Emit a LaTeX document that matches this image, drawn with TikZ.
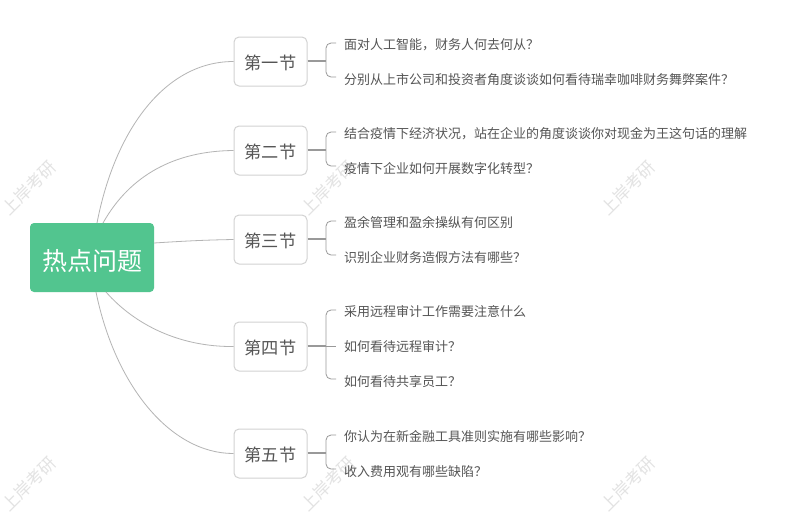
\documentclass[tikz,border=0pt]{standalone}
\usepackage{fontspec}
\setmainfont{Noto Sans CJK SC}
\usetikzlibrary{positioning}
\definecolor{rootgreen}{HTML}{52C58F}
\definecolor{boxgray}{HTML}{D2D2D2}
\definecolor{linegray}{HTML}{B4B4B4}
\definecolor{textgray}{HTML}{555555}
\tikzset{
  rootbox/.style={draw=none,fill=rootgreen,rounded corners=4pt,minimum width=124pt,minimum height=69pt,inner sep=0pt,text=white},
  roottext/.style={text=white,inner sep=0pt,font=\fontsize{25}{28}\selectfont},
  sectionbox/.style={draw=boxgray,line width=1pt,fill=white,rounded corners=5pt,minimum width=73pt,minimum height=49pt,inner sep=0pt},
  sectiontext/.style={text=textgray,inner sep=0pt,font=\fontsize{17.2}{20}\selectfont},
  leaftext/.style={anchor=west,inner xsep=8pt,inner ysep=0pt,text height=12.2pt,text depth=1.8pt,text=textgray,font=\fontsize{13}{15}\selectfont},
  rootline/.style={draw=linegray,line width=0.8pt},
  stemline/.style={draw=linegray!85!black,line width=1.6pt},
  leafline/.style={draw=linegray!85!black,line width=0.8pt,rounded corners=5pt},
  watermark/.style={rotate=45,text=black!11,font=\fontsize{17}{20}\selectfont}
}
\begin{document}
\begin{tikzpicture}[x=1pt,y=-1pt]
\useasboundingbox (0,0) rectangle (786,515);
\fill[white] (0,0) rectangle (786,515);

\node[watermark] (w1) at (29,188) {上岸考研};
\node[watermark] (w2) at (328,188) {上岸考研};
\node[watermark] (w3) at (628,188) {上岸考研};
\node[watermark] (w4) at (29,484) {上岸考研};
\node[watermark] (w5) at (328,484) {上岸考研};
\node[watermark] (w6) at (628,484) {上岸考研};

\node[rootbox] (root) at (92,257.5) {};
\node[roottext] (roott) at (92,261) {热点问题};
\node[sectionbox] (s1) at (270.5,61.5) {};
\node[sectionbox] (s2) at (270.5,150.5) {};
\node[sectionbox] (s3) at (270.5,239.5) {};
\node[sectionbox] (s4) at (270.5,346.5) {};
\node[sectionbox] (s5) at (270.5,453.5) {};
\node[sectiontext] (t1) at (270.5,62.5) {第一节};
\node[sectiontext] (t2) at (270.5,151.5) {第二节};
\node[sectiontext] (t3) at (270.5,240.5) {第三节};
\node[sectiontext] (t4) at (270.5,347.5) {第四节};
\node[sectiontext] (t5) at (270.5,454.5) {第五节};

\node[leaftext] (l11) at (336,44) {面对人工智能，财务人何去何从？};
\node[leaftext] (l12) at (336,79) {分别从上市公司和投资者角度谈谈如何看待瑞幸咖啡财务舞弊案件？};
\node[leaftext] (l21) at (336,133) {结合疫情下经济状况，站在企业的角度谈谈你对现金为王这句话的理解};
\node[leaftext] (l22) at (336,168) {疫情下企业如何开展数字化转型？};
\node[leaftext] (l31) at (336,222) {盈余管理和盈余操纵有何区别};
\node[leaftext] (l32) at (336,257) {识别企业财务造假方法有哪些？};
\node[leaftext] (l41) at (336,311) {采用远程审计工作需要注意什么};
\node[leaftext] (l42) at (336,346) {如何看待远程审计？};
\node[leaftext] (l43) at (336,381) {如何看待共享员工？};
\node[leaftext] (l51) at (336,436) {你认为在新金融工具准则实施有哪些影响？};
\node[leaftext] (l52) at (336,471) {收入费用观有哪些缺陷？};

\coordinate (r1) at (97,223);
\coordinate (r2) at (103,223);
\coordinate (r3) at (154,243);
\coordinate (r4) at (106,292);
\coordinate (r5) at (96,292);
\draw[rootline] (r1) .. controls (115,130) and (165,61.5) .. (s1.west);
\draw[rootline] (r2) .. controls (130,175) and (175,151) .. (s2.west);
\draw[rootline] (r3) .. controls (185,241) and (205,240) .. (s3.west);
\draw[rootline] (r4) .. controls (135,325) and (180,347) .. (s4.west);
\draw[rootline] (r5) .. controls (115,385) and (170,453.5) .. (s5.west);

\coordinate (j1) at (326,61);
\coordinate (j2) at (326,150);
\coordinate (j3) at (326,239);
\coordinate (j4) at (326,346);
\coordinate (j5) at (326,453);
\draw[stemline] (s1.east |- j1) -- (j1);
\draw[stemline] (s2.east |- j2) -- (j2);
\draw[stemline] (s3.east |- j3) -- (j3);
\draw[stemline] (s4.east |- j4) -- (j4);
\draw[stemline] (s5.east |- j5) -- (j5);
\draw[leafline] ([yshift=1pt]l11.west) -- ([yshift=1pt]j1 |- l11.west) -- ([yshift=2pt]j1 |- l12.west) -- ([yshift=2pt]l12.west);
\draw[leafline] ([yshift=1pt]l21.west) -- ([yshift=1pt]j2 |- l21.west) -- ([yshift=2pt]j2 |- l22.west) -- ([yshift=2pt]l22.west);
\draw[leafline] ([yshift=1pt]l31.west) -- ([yshift=1pt]j3 |- l31.west) -- ([yshift=2pt]j3 |- l32.west) -- ([yshift=2pt]l32.west);
\draw[leafline] ([yshift=1pt]l41.west) -- ([yshift=1pt]j4 |- l41.west) -- ([yshift=2pt]j4 |- l43.west) -- ([yshift=2pt]l43.west);
\draw[leafline] (j4) -- (j4 -| l42.west);
\draw[leafline] ([yshift=1pt]l51.west) -- ([yshift=1pt]j5 |- l51.west) -- ([yshift=2pt]j5 |- l52.west) -- ([yshift=2pt]l52.west);
\end{tikzpicture}
\end{document}
